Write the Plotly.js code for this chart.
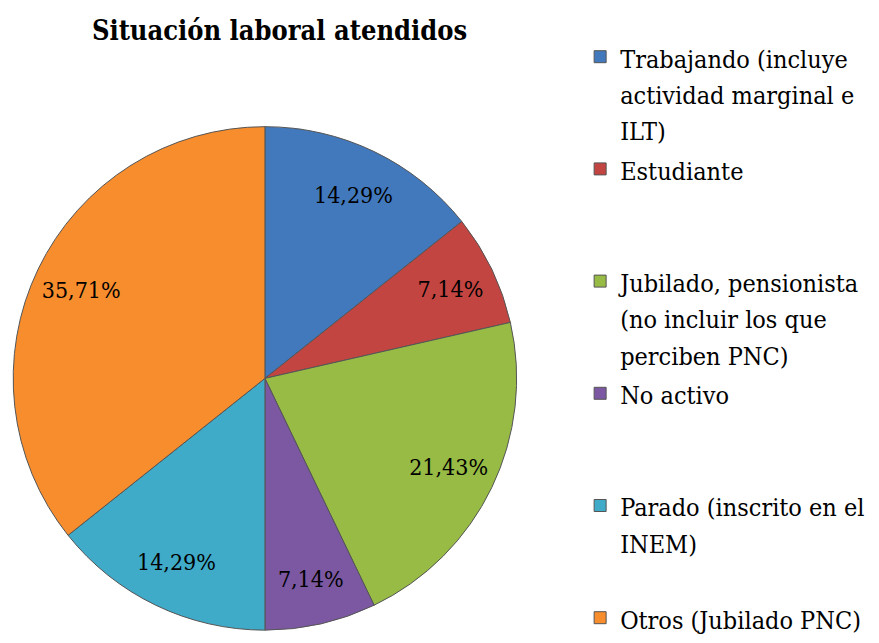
<!DOCTYPE html>
<html>
<head>
<meta charset="utf-8">
<script src="https://cdn.plot.ly/plotly-3.0.1.min.js"></script>
<style>
  body { margin: 0; background: #fff; }
  #chart { width: 879px; height: 643px; }
</style>
</head>
<body>
<div id="chart"></div>
<script>
// categories (legend text, wrapped like the original)
var categories = [
  "Trabajando (incluye<br>actividad marginal e<br>ILT)",
  "Estudiante",
  "Jubilado, pensionista<br>(no incluir los que<br>perciben PNC)",
  "No activo",
  "Parado (inscrito en el<br>INEM)",
  "Otros (Jubilado PNC)"
]
// share of people, in %
var values = [14.29, 7.14, 21.43, 7.14, 14.29, 35.71]
var colors = ["#4279bd", "#c34542", "#97bb45", "#7b58a1", "#3fabc8", "#f78d2d"]

var serif = 'DejaVu Serif Condensed'

// pad the legend entries to three lines (not the last) so they are evenly spaced,
// text drawn a bit smaller than the legend line height
var legendLabels = categories.map(function (c, k) {
  var lines = c.split('<br>')
  if (k < categories.length - 1) {
    while (lines.length < 3) lines.push('\u00a0')
  }
  return lines.map(function (l) { return '<span style="font-size:25px">' + l + '</span>' }).join('<br>')
})

var pieDomain = { x: [0.0148, 0.588], y: [0.02, 0.803] }

// full pie with the colours and the legend
var pie = {
  type: 'pie',
  labels: legendLabels,
  values: values,
  sort: false,
  direction: 'clockwise',
  rotation: 0,
  marker: { colors: colors, line: { color: '#555555', width: 1 } },
  textinfo: 'none',
  domain: pieDomain,
  hoverinfo: 'label+percent'
}

// transparent ring on top, only to place the percentages further out
var ring = {
  type: 'pie',
  labels: legendLabels,
  values: values,
  sort: false,
  direction: 'clockwise',
  rotation: 0,
  hole: 0.62,
  showlegend: false,
  marker: { colors: values.map(function () { return 'rgba(0,0,0,0)' }), line: { width: 0 } },
  texttemplate: '%{percent:.2%}',
  textposition: 'inside',
  insidetextorientation: 'horizontal',
  textfont: { family: serif, size: 23, color: '#000' },
  domain: pieDomain,
  hoverinfo: 'skip'
}

var layout = {
  width: 879,
  height: 643,
  margin: { l: 0, r: 0, t: 0, b: 0 },
  separators: ',.',
  paper_bgcolor: '#fff',
  uniformtext: { minsize: 23, mode: 'show' },
  title: {
    text: '<b>Situación laboral atendidos</b>',
    font: { family: serif, size: 27, color: '#000' },
    x: 0.318, xanchor: 'center', y: 0.953, yanchor: 'middle'
  },
  showlegend: true,
  legend: {
    x: 0.66, y: 0.927, xanchor: 'left', yanchor: 'top',
    valign: 'top',
    maxheight: 700,
    font: { family: serif, size: 28, color: '#000' },
    traceorder: 'normal'
  }
}

Plotly.newPlot('chart', [pie, ring], layout, { displayModeBar: false })
</script>
</body>
</html>
